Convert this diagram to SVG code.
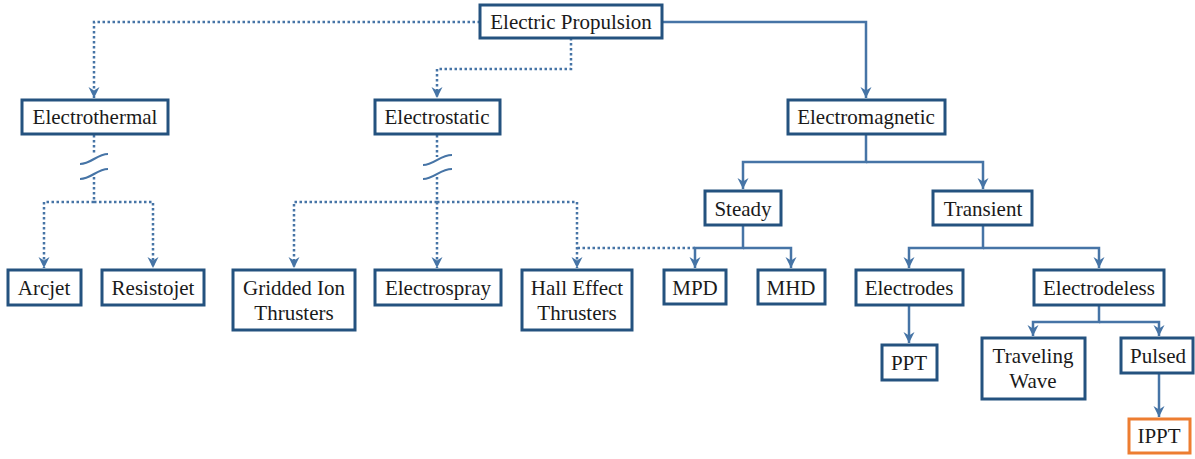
<svg xmlns="http://www.w3.org/2000/svg" width="1195" height="459" viewBox="0 0 1195 459">
<style>
.box{fill:#ffffff;stroke:#24527f;stroke-width:3}
.hl{fill:#ffffff;stroke:#ed7d31;stroke-width:3}
.t{font-family:'Liberation Serif','Times New Roman',serif;font-size:21px;fill:#1a1a1a;text-anchor:middle}
.c{fill:none;stroke:#4674a6;stroke-width:2.5}
.d{fill:none;stroke:#4674a6;stroke-width:2.5;stroke-dasharray:2.5 2.5}
.br{fill:none;stroke:#4674a6;stroke-width:2.2}
</style>
<defs>
<marker id="a" viewBox="0 0 13 13" refX="12" refY="6.5" markerWidth="13" markerHeight="13" orient="auto" markerUnits="userSpaceOnUse">
<path d="M1,1 L12,6.5 L1,12 L4.5,6.5 Z" fill="#4674a6"/>
</marker>
</defs>
<rect width="1195" height="459" fill="#ffffff"/>
<g id="connectors">
<path class="d" d="M480,22 H94 V98" marker-end="url(#a)"/>
<path class="d" d="M571,38 V69 H437 V98" marker-end="url(#a)"/>
<path class="c" d="M662,22 H866 V98" marker-end="url(#a)"/>
<path class="d" d="M94,135 V155"/>
<path class="d" d="M94,177 V202"/>
<path class="br" d="M80,164 C91,164 97,154 108,154"/>
<path class="br" d="M80,179 C91,179 97,169 108,169"/>
<path class="d" d="M94,202 H44 V268" marker-end="url(#a)"/>
<path class="d" d="M94,202 H153 V268" marker-end="url(#a)"/>
<path class="d" d="M437,135 V157"/>
<path class="d" d="M437,177 V202"/>
<path class="br" d="M423,165 C434,165 440,155 452,155"/>
<path class="br" d="M423,179 C434,179 440,169 452,169"/>
<path class="d" d="M437,202 H294 V268" marker-end="url(#a)"/>
<path class="d" d="M437,202 V268" marker-end="url(#a)"/>
<path class="d" d="M437,202 H577 V268" marker-end="url(#a)"/>
<path class="d" d="M695,248 H577"/>
<path class="c" d="M866,135 V162 H743 V189" marker-end="url(#a)"/>
<path class="c" d="M866,162 H983 V189" marker-end="url(#a)"/>
<path class="c" d="M743,226 V248 H695 V268" marker-end="url(#a)"/>
<path class="c" d="M743,248 H791 V268" marker-end="url(#a)"/>
<path class="c" d="M983,226 V248 H909 V268" marker-end="url(#a)"/>
<path class="c" d="M983,248 H1099 V268" marker-end="url(#a)"/>
<path class="c" d="M909,306 V343" marker-end="url(#a)"/>
<path class="c" d="M1099,306 V322 H1033 V336" marker-end="url(#a)"/>
<path class="c" d="M1099,322 H1159 V336" marker-end="url(#a)"/>
<path class="c" d="M1159,374 V417" marker-end="url(#a)"/>
</g>
<g id="electric-propulsion"><rect class="box" x="480" y="5" width="182" height="33"/><text class="t" x="571" y="28.5">Electric Propulsion</text></g>
<g id="electrothermal"><rect class="box" x="22" y="100" width="146" height="34"/><text class="t" x="95" y="124">Electrothermal</text></g>
<g id="electrostatic"><rect class="box" x="375" y="100" width="125" height="34"/><text class="t" x="437" y="124">Electrostatic</text></g>
<g id="electromagnetic"><rect class="box" x="788" y="100" width="157" height="34"/><text class="t" x="866" y="124">Electromagnetic</text></g>
<g id="arcjet"><rect class="box" x="8" y="270" width="73" height="35"/><text class="t" x="44" y="295">Arcjet</text></g>
<g id="resistojet"><rect class="box" x="102" y="270" width="102" height="35"/><text class="t" x="153" y="295">Resistojet</text></g>
<g id="gridded-ion"><rect class="box" x="233" y="270" width="122" height="60"/><text class="t" x="294" y="295">Gridded Ion</text><text class="t" x="294" y="320">Thrusters</text></g>
<g id="electrospray"><rect class="box" x="375" y="270" width="126" height="35"/><text class="t" x="438" y="295">Electrospray</text></g>
<g id="hall-effect"><rect class="box" x="522" y="270" width="110" height="60"/><text class="t" x="577" y="295">Hall Effect</text><text class="t" x="577" y="320">Thrusters</text></g>
<g id="steady"><rect class="box" x="705" y="191" width="76" height="34"/><text class="t" x="743" y="216">Steady</text></g>
<g id="transient"><rect class="box" x="933" y="191" width="99" height="34"/><text class="t" x="983" y="216">Transient</text></g>
<g id="mpd"><rect class="box" x="664" y="270" width="62" height="34"/><text class="t" x="695" y="295">MPD</text></g>
<g id="mhd"><rect class="box" x="758" y="270" width="67" height="34"/><text class="t" x="791" y="295">MHD</text></g>
<g id="electrodes"><rect class="box" x="856" y="270" width="107" height="35"/><text class="t" x="909" y="295">Electrodes</text></g>
<g id="electrodeless"><rect class="box" x="1034" y="270" width="130" height="35"/><text class="t" x="1099" y="295">Electrodeless</text></g>
<g id="ppt"><rect class="box" x="882" y="345" width="55" height="35"/><text class="t" x="909" y="370">PPT</text></g>
<g id="traveling-wave"><rect class="box" x="982" y="338" width="103" height="61"/><text class="t" x="1033" y="363">Traveling</text><text class="t" x="1033" y="388">Wave</text></g>
<g id="pulsed"><rect class="box" x="1121" y="338" width="72" height="35"/><text class="t" x="1158" y="363">Pulsed</text></g>
<g id="ippt"><rect class="hl" x="1129" y="419" width="61" height="34"/><text class="t" x="1159" y="443">IPPT</text></g>
</svg>
